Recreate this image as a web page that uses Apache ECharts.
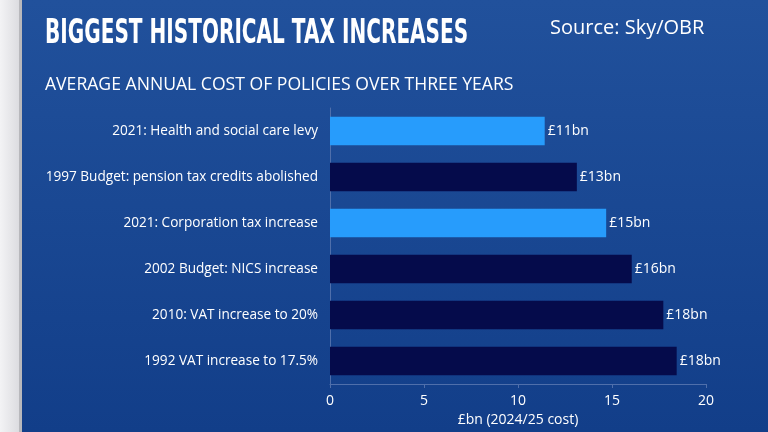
<!DOCTYPE html>
<html><head><meta charset="utf-8">
<script src="https://cdn.jsdelivr.net/npm/echarts@6/dist/echarts.min.js"></script>
<style>html,body{margin:0;padding:0;}#c{width:768px;height:432px;}</style>
</head><body><div id="c"></div>
<script>
const categories = [
  '2021: Health and social care levy',
  '1997 Budget: pension tax credits abolished',
  '2021: Corporation tax increase',
  '2002 Budget: NICS increase',
  '2010: VAT increase to 20%',
  '1992 VAT increase to 17.5%'
];
const values = [11.42, 13.13, 14.69, 16.05, 17.73, 18.44];
const barColors = ['#279cfc', '#050b4b', '#279cfc', '#050b4b', '#050b4b', '#050b4b'];
const xTicks = [0, 5, 10, 15, 20];

const chart = echarts.init(document.getElementById('c'));
chart.setOption({
  backgroundColor: {type:'linear', x:0, y:0, x2:1, y2:0, colorStops:[{offset:0,color:'#f3f3f5'},{offset:0.025,color:'#dcdce0'}]},
  graphic: [
    {type:'rect', left:22, top:0, z:-10, shape:{width:746, height:432},
     style:{fill:{type:'linear', x:0, y:0, x2:0, y2:1, colorStops:[{offset:0,color:'#21519c'},{offset:1,color:'#123e89'}]}}},
    {type:'rect', left:19, top:0, z:-11, shape:{width:4, height:432}, style:{fill:'#b8b8bc'}},
    {type:'text', left:45, top:17, style:{text:'BIGGEST HISTORICAL TAX INCREASES', fill:'#ffffff', font:'bold 34px "DejaVu Sans", sans-serif'}, scaleX:0.59},
    {type:'text', left:550, top:18, style:{text:'Source: Sky/OBR', fill:'#ffffff', font:'20px "Open Sans", sans-serif'}},
    {type:'text', left:45, top:76, style:{text:'AVERAGE ANNUAL COST OF POLICIES OVER THREE YEARS', fill:'#ffffff', font:'17.6px "Open Sans", sans-serif'}}
  ],
  grid: {left:330, right:62, top:108, bottom:45, containLabel:false},
  xAxis: {
    type:'value', min:xTicks[0], max:xTicks[xTicks.length-1], interval:5,
    name:'£bn (2024/25 cost)', nameLocation:'middle', nameGap:29,
    nameTextStyle:{color:'#ffffff', fontSize:14, fontFamily:'Open Sans'},
    axisLine:{show:true, lineStyle:{color:'#4f6fab'}},
    axisTick:{show:true, length:4, lineStyle:{color:'#4f6fab'}},
    axisLabel:{color:'#ffffff', fontSize:14, fontFamily:'Open Sans', margin:10},
    splitLine:{show:false}
  },
  yAxis: {
    type:'category', data:categories, inverse:true,
    axisLine:{show:true, lineStyle:{color:'#4f6fab'}},
    axisTick:{show:false},
    axisLabel:{color:'#ffffff', fontSize:13.6, fontFamily:'Open Sans', margin:12}
  },
  series: [{
    type:'bar', barWidth:'62%',
    data: values.map((v,i)=>({value:v, itemStyle:{color:barColors[i]}})),
    label:{show:true, position:'right', distance:3, color:'#ffffff', fontSize:14, fontFamily:'Open Sans',
      formatter:p=>'£'+Math.round(p.value)+'bn'}
  }]
});
</script></body></html>
